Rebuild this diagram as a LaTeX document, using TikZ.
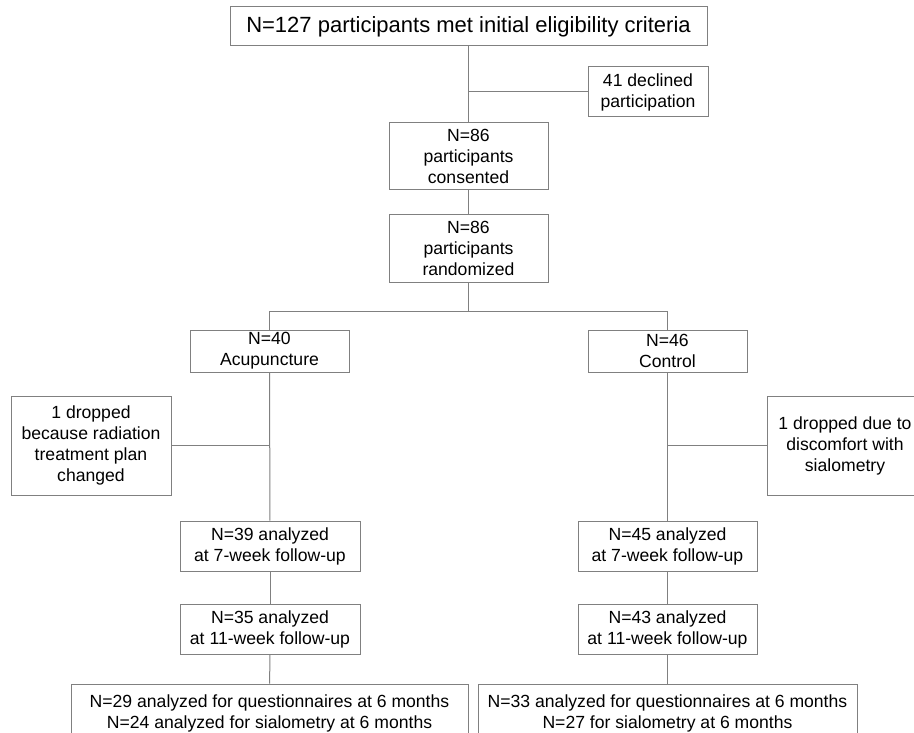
\documentclass[tikz,border=0pt]{standalone}
\usepackage{fontspec}
\setmainfont{Liberation Sans}
\begin{document}
\begin{tikzpicture}[x=1pt,y=-1pt,
  box/.style={draw=linegray, line width=1pt, fill=white, inner sep=0pt, align=center,
    font=\fontsize{17.6}{21}\selectfont},
  conn/.style={draw=linegray, line width=1pt}]
\definecolor{linegray}{RGB}{128,128,128}
\clip (0,0) rectangle (914,733);
\fill[white] (0,0) rectangle (914,733);
\node[box, minimum width=477pt, minimum height=39pt, font=\fontsize{22}{26}\selectfont] (top) at (468.5,26.5) {N=127 participants met initial eligibility criteria};
\node[box, minimum width=120pt, minimum height=50pt] (decl) at (648,92) {41 declined\\participation};
\node[box, minimum width=159pt, minimum height=67pt] (cons) at (468.5,156.5) {N=86\\participants\\consented};
\node[box, minimum width=159pt, minimum height=67pt] (rand) at (468.5,248.5) {N=86\\participants\\randomized};
\node[box, minimum width=159pt, minimum height=42pt] (acu) at (269.5,351) {N=40\\Acupuncture};
\node[box, minimum width=159pt, minimum height=42pt] (ctrl) at (667.5,351) {N=46\\Control};
\node[box, minimum width=160pt, minimum height=99pt] (dropL) at (91,445.5) {1 dropped\\because radiation\\treatment plan\\changed};
\node[box, minimum width=156pt, minimum height=99pt] (dropR) at (845,445.5) {1 dropped due to\\discomfort with\\sialometry};
\node[box, minimum width=180pt, minimum height=50pt] (a7) at (270,546) {N=39 analyzed\\at 7-week follow-up};
\node[box, minimum width=180pt, minimum height=50pt] (a11) at (270,629) {N=35 analyzed\\at 11-week follow-up};
\node[box, minimum width=179pt, minimum height=50pt] (c7) at (667.5,546) {N=45 analyzed\\at 7-week follow-up};
\node[box, minimum width=179pt, minimum height=50pt] (c11) at (667.5,629) {N=43 analyzed\\at 11-week follow-up};
\node[box, minimum width=397pt, minimum height=58pt] (a6) at (269.5,713) {N=29 analyzed for questionnaires at 6 months\\N=24 analyzed for sialometry at 6 months};
\node[box, minimum width=379pt, minimum height=58pt] (c6) at (667.5,713) {N=33 analyzed for questionnaires at 6 months\\N=27 for sialometry at 6 months};
\coordinate (j1) at (top.south |- decl.west);
\coordinate (split) at (468.5,311);
\coordinate (jl) at (acu.south |- dropL.east);
\coordinate (jr) at (ctrl.south |- dropR.west);
\draw[conn] (top) -- (cons);
\draw[conn] (j1) -- (decl.west);
\draw[conn] (cons) -- (rand);
\draw[conn] (rand.south) -- (split);
\draw[conn] (acu.north) -- (acu.north |- split) -- (ctrl.north |- split) -- (ctrl.north);
\draw[conn] (acu) -- (a7);
\draw[conn] (jl) -- (dropL.east);
\draw[conn] (ctrl) -- (c7);
\draw[conn] (jr) -- (dropR.west);
\draw[conn] (a7) -- (a11);
\draw[conn] (a11) -- (a6);
\draw[conn] (c7) -- (c11);
\draw[conn] (c11) -- (c6);
\end{tikzpicture}
\end{document}
